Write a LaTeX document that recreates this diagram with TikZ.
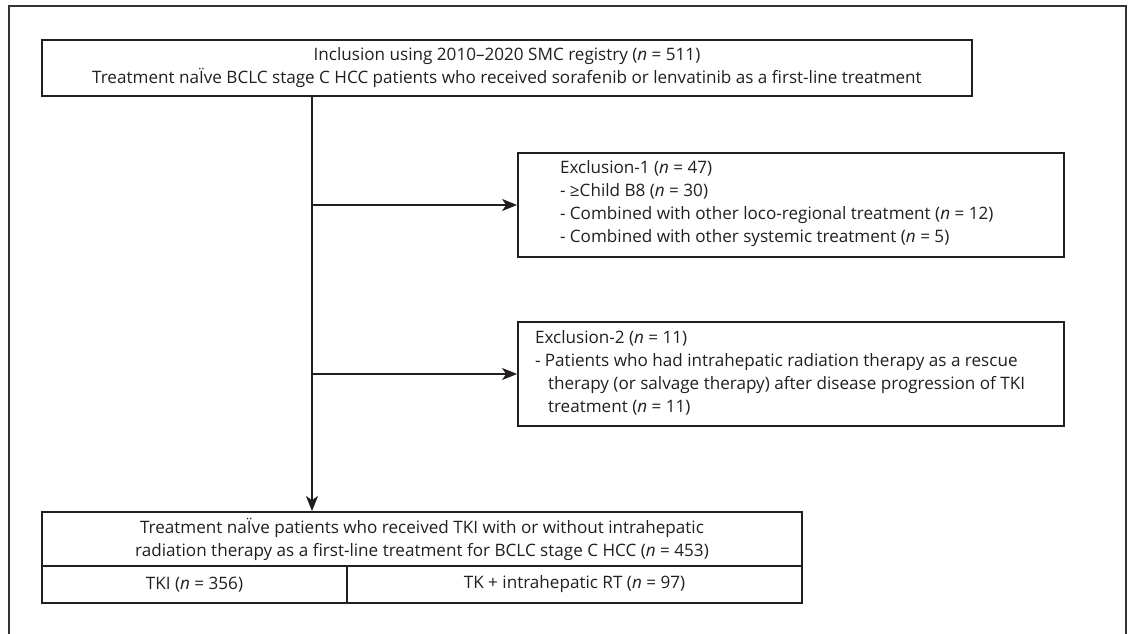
\documentclass[tikz,border=0pt]{standalone}
\usepackage{fontspec}
\setmainfont{Open Sans}
\usetikzlibrary{arrows.meta}
\definecolor{ink}{HTML}{231F20}
\definecolor{framec}{HTML}{333333}
\begin{document}
\begin{tikzpicture}[x=1pt,y=-1pt,
  box/.style={draw=ink, line width=1.8pt, inner sep=0pt, text=ink},
  arr/.style={draw=ink, line width=1.7pt, -{Stealth[length=15pt,width=12pt,inset=4pt]}},
  font=\fontsize{17.1}{23}\selectfont]
\useasboundingbox (0,0) rectangle (1130,634);
\fill[white] (0,0) rectangle (1130,634);
\draw[framec, line width=1.6pt] (9,634) -- (9,6) -- (1126,6) -- (1126,634);
\node[box, minimum width=930pt, minimum height=56pt, align=center] (top) at (507,68)
  {Inclusion using 2010–2020 SMC registry (\textit{n} = 511)\\Treatment naÏve BCLC stage C HCC patients who received sorafenib or lenvatinib as a first-line treatment};
\node[box] (ex1) at (791,205) {\begin{minipage}[c][104pt][t]{546pt}\leftskip=42pt
  \rule{0pt}{20pt}\mbox{Exclusion-1 (\textit{n} = 47)}\\
  \mbox{- ≥Child B8 (\textit{n} = 30)}\\
  \mbox{- Combined with other loco-regional treatment (\textit{n} = 12)}\\
  \mbox{- Combined with other systemic treatment (\textit{n} = 5)}\end{minipage}};
\node[box] (ex2) at (791,374) {\begin{minipage}[c][104pt][t]{546pt}\leftskip=17pt
  \rule{0pt}{21pt}\mbox{Exclusion-2 (\textit{n} = 11)}\\
  \mbox{- Patients who had intrahepatic radiation therapy as a rescue}\\
  \mbox{\hspace*{13pt}therapy (or salvage therapy) after disease progression of TKI}\\
  \mbox{\hspace*{13pt}treatment (\textit{n} = 11)}\end{minipage}};
\node[box, minimum width=760pt, minimum height=54pt, align=center] (fin) at (422,539)
  {Treatment naÏve patients who received TKI with or without intrahepatic\\radiation therapy as a first-line treatment for BCLC stage C HCC (\textit{n} = 453)};
\node[box, minimum width=305pt, minimum height=37pt] (tki) at (194.5,584.5) {TKI (\textit{n} = 356)};
\node[box, minimum width=455pt, minimum height=37pt] (tkrt) at (574.5,584.5) {TK + intrahepatic RT (\textit{n} = 97)};
\coordinate (sp) at (top.south -| 312,0);
\draw[arr] (sp) -- (sp |- fin.north);
\draw[arr] (sp |- ex1.west) -- (ex1.west);
\draw[arr] (sp |- ex2.west) -- (ex2.west);
\end{tikzpicture}
\end{document}
